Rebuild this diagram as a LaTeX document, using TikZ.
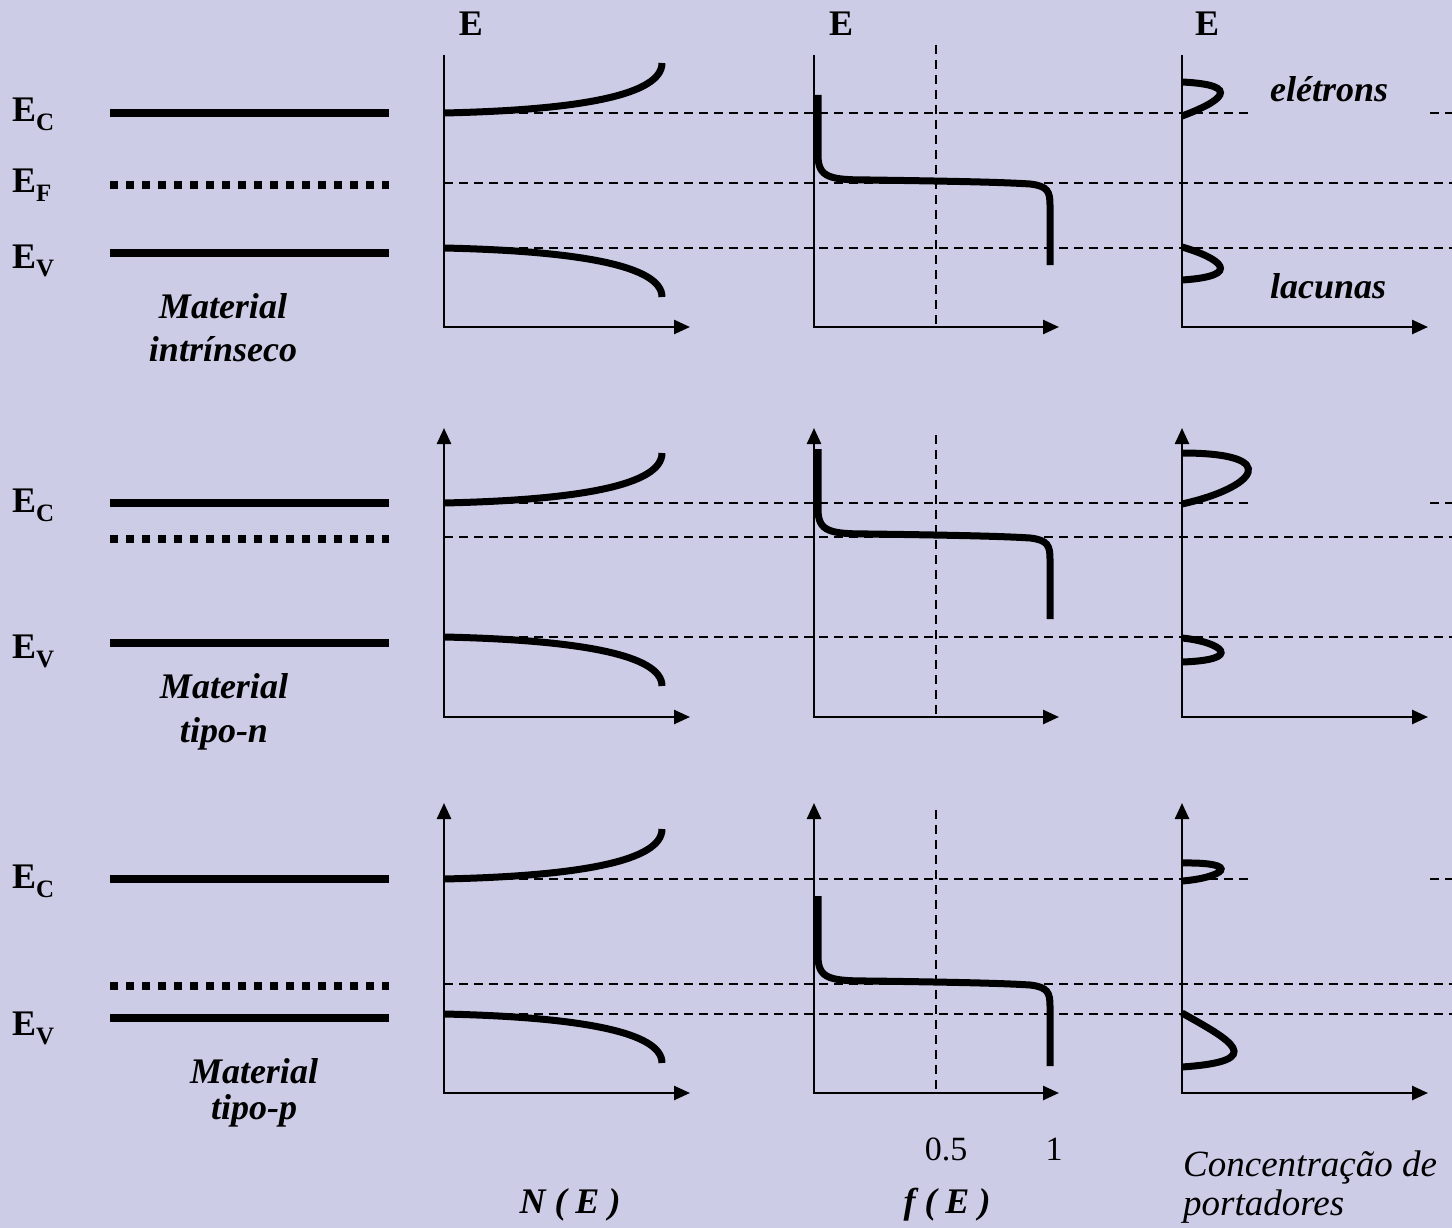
\documentclass[tikz,border=0pt]{standalone}
\usepackage{fontspec}
\setmainfont{Liberation Serif}
\usetikzlibrary{arrows.meta}
\definecolor{bgcol}{RGB}{204,204,230}
\tikzset{
    band/.style = {line width=8pt},
    fermilvl/.style = {line width=8pt, dash pattern=on 8.3pt off 7.7pt},
    axis/.style = {line width=2.5pt, -{Triangle[length=16pt,width=14pt]}},
    axisup/.style = {line width=2.5pt, {Triangle[length=16pt,width=14pt]}-{Triangle[length=16pt,width=14pt]}},
    curve/.style = {line width=7pt},
    guide/.style = {line width=1.4pt, dash pattern=on 9pt off 6pt},
    vguide/.style = {line width=1.2pt, dash pattern=on 9pt off 6pt},
    lvl/.style = {inner sep=0pt, anchor=base west, font=\bfseries\fontsize{36}{36}\selectfont},
    axlbl/.style = {inner sep=0pt, anchor=base, font=\bfseries\fontsize{36}{36}\selectfont},
    mat/.style = {inner sep=0pt, anchor=base, font=\bfseries\itshape\fontsize{36}{36}\selectfont},
    tick/.style = {inner sep=0pt, anchor=base, font=\fontsize{34}{34}\selectfont},
    note/.style = {inner sep=0pt, anchor=base west, font=\itshape\fontsize{37}{37}\selectfont}
}
\newcommand{\lvlsub}[1]{E\raisebox{-9pt}{\fontsize{25}{25}\selectfont #1}}

\begin{document}
\begin{tikzpicture}[x=1pt, y=-1pt]
        % Background
        \fill[bgcol] (0,0) rectangle (1452,1228);
        \useasboundingbox (0,0) rectangle (1452,1228);

        % Level labels
        \node[lvl] (ec1) at (12,122) {\lvlsub{C}};
        \node[lvl] (ef1) at (12,193) {\lvlsub{F}};
        \node[lvl] (ev1) at (12,268) {\lvlsub{V}};
        \node[lvl] (ec2) at (12,512) {\lvlsub{C}};
        \node[lvl] (ev2) at (12,658) {\lvlsub{V}};
        \node[lvl] (ec3) at (12,888) {\lvlsub{C}};
        \node[lvl] (ev3) at (12,1035) {\lvlsub{V}};

        % Band diagrams
        \draw[band] (110,113) -- (389,113);
        \draw[fermilvl] (110,185) -- (389,185);
        \draw[band] (110,253) -- (389,253);
        \draw[band] (110,503) -- (389,503);
        \draw[fermilvl] (110,539) -- (389,539);
        \draw[band] (110,643) -- (389,643);
        \draw[band] (110,879) -- (389,879);
        \draw[fermilvl] (110,986) -- (389,986);
        \draw[band] (110,1018) -- (389,1018);

        \node[mat] (mat1) at (223,318) {Material};
        \node[mat] (intr) at (223,361) {intrínseco};
        \node[mat] (mat2) at (224,698) {Material};
        \node[mat] (tipn) at (224,742) {tipo-n};
        \node[mat] (mat3) at (254,1083) {Material};
        \node[mat] (tipp) at (254,1119) {tipo-p};

        % Guide lines
        \draw[guide] (444,113) -- (1250,113);
        \draw[guide] (1430,113) -- (1452,113);
        \draw[guide] (444,183) -- (1452,183);
        \draw[guide] (444,248) -- (1452,248);
        \draw[guide] (444,503) -- (1250,503);
        \draw[guide] (1430,503) -- (1452,503);
        \draw[guide] (444,537) -- (1452,537);
        \draw[guide] (444,637) -- (1452,637);
        \draw[guide] (444,879) -- (1250,879);
        \draw[guide] (1430,879) -- (1452,879);
        \draw[guide] (444,984) -- (1452,984);
        \draw[guide] (444,1014) -- (1452,1014);
        \draw[vguide] (936,45) -- (936,327);
        \draw[vguide] (936,435) -- (936,717);
        \draw[vguide] (936,810) -- (936,1093);

        % Axes
        \draw[axis] (444,55) |- (690,327);
        \draw[axis] (814,55) |- (1059,327);
        \draw[axis] (1182,55) |- (1428,327);
        \draw[axisup] (444,428) |- (690,717);
        \draw[axisup] (814,428) |- (1059,717);
        \draw[axisup] (1182,428) |- (1428,717);
        \draw[axisup] (444,803) |- (690,1093);
        \draw[axisup] (814,803) |- (1059,1093);
        \draw[axisup] (1182,803) |- (1428,1093);

        % N(E)
        \draw[curve] (444,113) .. controls (580,110) and (662,95) .. (662,63);
        \draw[curve] (444,248) .. controls (580,251) and (662,266) .. (662,297);
        \draw[curve, shift={(0,390)}] (444,113) .. controls (580,110) and (662,95) .. (662,63);
        \draw[curve, shift={(0,389)}] (444,248) .. controls (580,251) and (662,266) .. (662,297);
        \draw[curve, shift={(0,766)}] (444,113) .. controls (580,110) and (662,95) .. (662,63);
        \draw[curve, shift={(0,766)}] (444,248) .. controls (580,251) and (662,266) .. (662,297);

        % f(E)
        \draw[curve] (818,95) -- (818,155) .. controls (818,178) and (830,180) .. (870,180)
            .. controls (940,181) and (1000,182) .. (1030,184) .. controls (1048,186) and (1050,192) .. (1050,205) -- (1050,265);
        \draw[curve, shift={(0,354)}] (818,95) -- (818,155) .. controls (818,178) and (830,180) .. (870,180)
            .. controls (940,181) and (1000,182) .. (1030,184) .. controls (1048,186) and (1050,192) .. (1050,205) -- (1050,265);
        \draw[curve, shift={(0,801)}] (818,95) -- (818,155) .. controls (818,178) and (830,180) .. (870,180)
            .. controls (940,181) and (1000,182) .. (1030,184) .. controls (1048,186) and (1050,192) .. (1050,205) -- (1050,265);

        % Carriers
        \draw[curve] (1182,82) .. controls (1245,85) and (1220,102) .. (1182,116);
        \draw[curve] (1182,247) .. controls (1220,258) and (1245,276) .. (1182,280);
        \draw[curve] (1182,453) .. controls (1285,453) and (1255,488) .. (1182,504);
        \draw[curve] (1182,638) .. controls (1222,642) and (1245,660) .. (1182,662);
        \draw[curve] (1182,863) .. controls (1245,862) and (1222,878) .. (1182,881);
        \draw[curve] (1182,1013) .. controls (1230,1040) and (1270,1061) .. (1182,1067);

        % Axis labels
        \node[axlbl] (e2) at (471,36) {E};
        \node[axlbl] (e3) at (841,36) {E};
        \node[axlbl] (e4) at (1207,36) {E};
        \node[mat, anchor=base west] (elet) at (1270,102) {elétrons};
        \node[mat, anchor=base west] (lacu) at (1270,298) {lacunas};
        \node[tick] (half) at (946,1160) {0.5};
        \node[tick] (one) at (1054,1160) {1};
        \node[mat] (dos) at (570,1213) {N ( E )};
        \node[mat] (fd) at (947,1213) {f ( E )};
        \node[note] (conc) at (1183,1176) {Concentração de};
        \node[note] (port) at (1183,1215) {portadores};

\end{tikzpicture}
\end{document}
